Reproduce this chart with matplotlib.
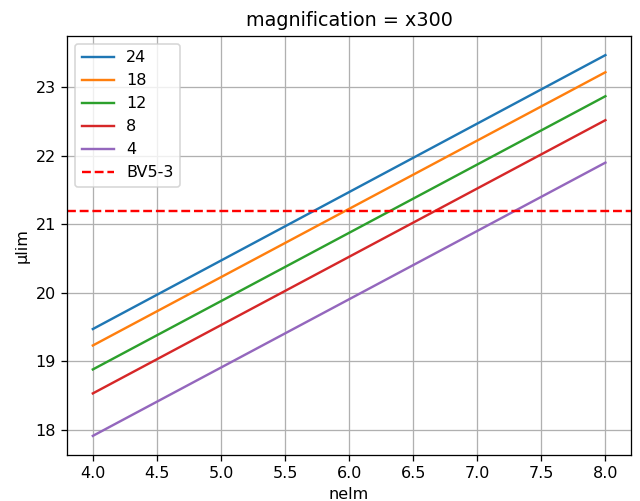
import numpy as np
import matplotlib
matplotlib.use('Agg')
import matplotlib.pyplot as plt

# apertures (legend labels) and limiting magnitude at nelm = 4 and 8
nelm = [4.0, 8.0]
apertures = ['24', '18', '12', '8', '4']
mu_lim = {
    '24': [19.47, 23.47],
    '18': [19.23, 23.22],
    '12': [18.88, 22.87],
    '8': [18.53, 22.52],
    '4': [17.91, 21.90],
}
bv5_3 = 21.2

DPI = 115
fig = plt.figure(figsize=(640 / DPI, 501 / DPI), dpi=DPI)
ax = fig.add_subplot(111)
fig.subplots_adjust(left=0.105, right=0.986, bottom=0.092, top=0.928)

for ap in apertures:
    ax.plot(nelm, mu_lim[ap], label=ap)
ax.axhline(bv5_3, color='red', linestyle='--', label='BV5-3')

ax.set_title('magnification = x300')
ax.set_xlabel('nelm')
ax.set_ylabel('μlim')
ax.legend(loc='upper left')
ax.grid(True)

fig.savefig('out.png', dpi=DPI)
